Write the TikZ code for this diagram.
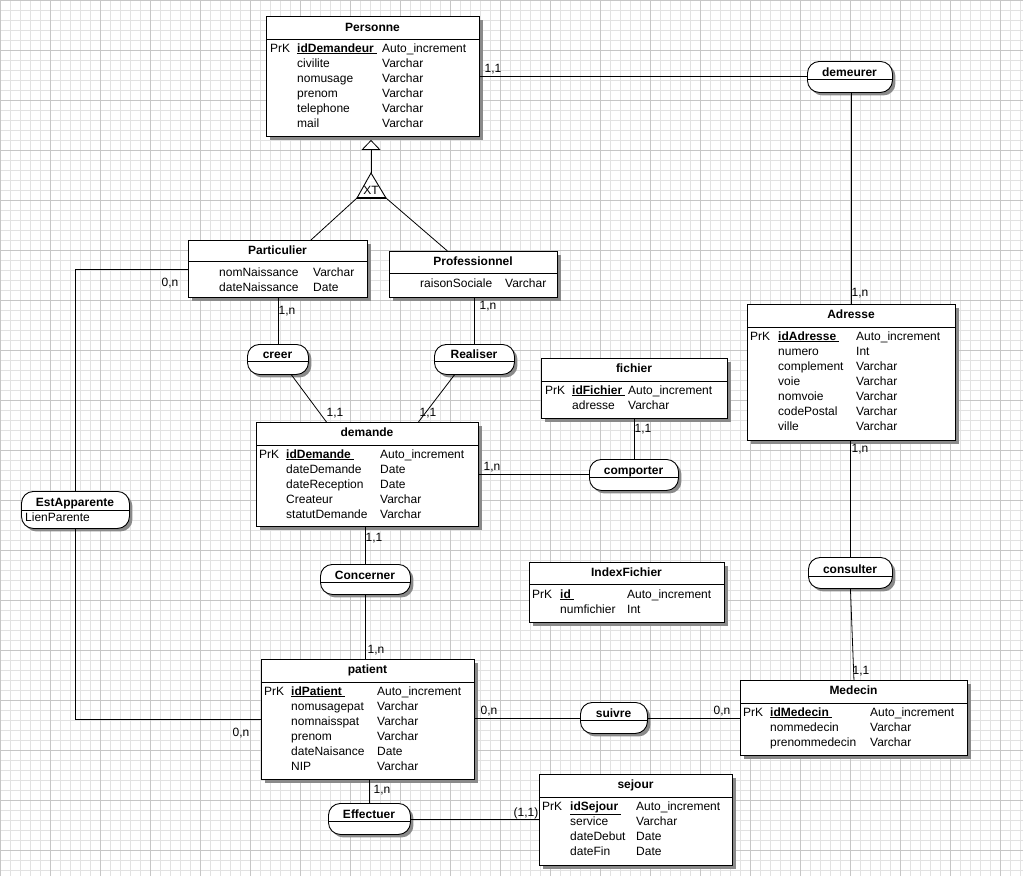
\documentclass[tikz,border=0pt]{standalone}
\usepackage{fontspec}
\setmainfont{Liberation Sans}
\usetikzlibrary{arrows.meta, shadows, calc}
\definecolor{gridMinor}{HTML}{E2E2E2}
\definecolor{gridMajor}{HTML}{C6C6C6}
\definecolor{shadowGray}{HTML}{8A8A8A}

\newcommand{\pkey}[1]{\underline{\textbf{#1}\hspace{3pt}}}

\tikzset{
  entity/.style={draw, fill=white, line width=0.9pt, anchor=north west, inner sep=0pt,
    drop shadow={shadow xshift=4pt, shadow yshift=-4pt, fill=shadowGray, opacity=1}},
  assoc/.style={draw, fill=white, line width=0.9pt, anchor=north west, inner sep=0pt,
    rounded corners=12pt,
    drop shadow={shadow xshift=3pt, shadow yshift=-3pt, fill=shadowGray, opacity=1}},
  txt/.style={anchor=base west, inner sep=0pt, font=\fontsize{12}{14}\selectfont},
  ttl/.style={anchor=base, inner sep=0pt, font=\fontsize{12}{14}\selectfont\bfseries},
  card/.style={inner sep=0pt, font=\fontsize{12}{14}\selectfont},
  link/.style={line width=0.8pt},
}

\begin{document}
\begin{tikzpicture}[x=1pt, y=-1pt]
  \useasboundingbox (0,0) rectangle (1023,876);
  % Background grid (minor every 10, major every 50)
  \draw[gridMinor, line width=0.7pt, step=10pt] (0pt,-876pt) grid (1023pt,0pt);
  \draw[gridMajor, line width=0.7pt, step=50pt] (0pt,-876pt) grid (1023pt,0pt);

  % ---------------- Entities ----------------
  % Personne
  \node[entity, minimum width=213pt, minimum height=120pt] (personne) at (266,16) {};
  \draw ([yshift=-23pt]personne.north west) -- ([yshift=-23pt]personne.north east);
  \node[ttl] (personne-t) at (372.5,31) {Personne};
  \node[txt] (personne-k) at (270,52) {PrK};
  \foreach \a/\t [count=\i from 0] in {\pkey{idDemandeur}/Auto\_increment,
      civilite/Varchar, nomusage/Varchar, prenom/Varchar, telephone/Varchar, mail/Varchar}{
    \node[txt] (personne-a\i) at (297,52+15*\i) {\a};
    \node[txt] (personne-d\i) at (382,52+15*\i) {\t};
  }

  % Particulier
  \node[entity, minimum width=179pt, minimum height=57pt] (particulier) at (188,240) {};
  \draw ([yshift=-21pt]particulier.north west) -- ([yshift=-21pt]particulier.north east);
  \node[ttl] (particulier-t) at (277.5,254) {Particulier};
  \foreach \a/\t [count=\i from 0] in {nomNaissance/Varchar, dateNaissance/Date}{
    \node[txt] (particulier-a\i) at (219,276+15*\i) {\a};
    \node[txt] (particulier-d\i) at (313,276+15*\i) {\t};
  }

  % Professionnel
  \node[entity, minimum width=168pt, minimum height=46pt] (professionnel) at (389,251) {};
  \draw ([yshift=-22pt]professionnel.north west) -- ([yshift=-22pt]professionnel.north east);
  \node[ttl] (professionnel-t) at (473,265) {Professionnel};
  \node[txt] (professionnel-a0) at (420,287) {raisonSociale};
  \node[txt] (professionnel-d0) at (505,287) {Varchar};

  % demande
  \node[entity, minimum width=222pt, minimum height=104pt] (demande) at (256,422) {};
  \draw ([yshift=-23pt]demande.north west) -- ([yshift=-23pt]demande.north east);
  \node[ttl] (demande-t) at (367,436) {demande};
  \node[txt] (demande-k) at (259,458) {PrK};
  \foreach \a/\t [count=\i from 0] in {\pkey{idDemande}/Auto\_increment,
      dateDemande/Date, dateReception/Date, Createur/Varchar, statutDemande/Varchar}{
    \node[txt] (demande-a\i) at (286,458+15*\i) {\a};
    \node[txt] (demande-d\i) at (380,458+15*\i) {\t};
  }

  % fichier
  \node[entity, minimum width=186pt, minimum height=60pt] (fichier) at (541,358) {};
  \draw ([yshift=-23pt]fichier.north west) -- ([yshift=-23pt]fichier.north east);
  \node[ttl] (fichier-t) at (634,372) {fichier};
  \node[txt] (fichier-k) at (545,394) {PrK};
  \foreach \a/\t [count=\i from 0] in {\pkey{idFichier}/Auto\_increment, adresse/Varchar}{
    \node[txt] (fichier-a\i) at (572,394+15*\i) {\a};
    \node[txt] (fichier-d\i) at (628,394+15*\i) {\t};
  }

  % IndexFichier
  \node[entity, minimum width=195pt, minimum height=60pt] (indexfichier) at (529,562) {};
  \draw ([yshift=-22pt]indexfichier.north west) -- ([yshift=-22pt]indexfichier.north east);
  \node[ttl] (indexfichier-t) at (626.5,576) {IndexFichier};
  \node[txt] (indexfichier-k) at (532,598) {PrK};
  \foreach \a/\t [count=\i from 0] in {\pkey{id}/Auto\_increment, numfichier/Int}{
    \node[txt] (indexfichier-a\i) at (560,598+15*\i) {\a};
    \node[txt] (indexfichier-d\i) at (627,598+15*\i) {\t};
  }

  % Adresse
  \node[entity, minimum width=208pt, minimum height=136pt] (adresse) at (747,304) {};
  \draw ([yshift=-23pt]adresse.north west) -- ([yshift=-23pt]adresse.north east);
  \node[ttl] (adresse-t) at (851,318) {Adresse};
  \node[txt] (adresse-k) at (750,340) {PrK};
  \foreach \a/\t [count=\i from 0] in {\pkey{idAdresse}/Auto\_increment,
      numero/Int, complement/Varchar, voie/Varchar, nomvoie/Varchar, codePostal/Varchar, ville/Varchar}{
    \node[txt] (adresse-a\i) at (778,340+15*\i) {\a};
    \node[txt] (adresse-d\i) at (856,340+15*\i) {\t};
  }

  % patient
  \node[entity, minimum width=213pt, minimum height=120pt] (patient) at (261,659) {};
  \draw ([yshift=-23pt]patient.north west) -- ([yshift=-23pt]patient.north east);
  \node[ttl] (patient-t) at (367.5,673) {patient};
  \node[txt] (patient-k) at (264,695) {PrK};
  \foreach \a/\t [count=\i from 0] in {\pkey{idPatient}/Auto\_increment,
      nomusagepat/Varchar, nomnaisspat/Varchar, prenom/Varchar, dateNaisance/Date, NIP/Varchar}{
    \node[txt] (patient-a\i) at (291,695+15*\i) {\a};
    \node[txt] (patient-d\i) at (377,695+15*\i) {\t};
  }

  % Medecin
  \node[entity, minimum width=227pt, minimum height=75pt] (medecin) at (740,680) {};
  \draw ([yshift=-23pt]medecin.north west) -- ([yshift=-23pt]medecin.north east);
  \node[ttl] (medecin-t) at (853.5,694) {Medecin};
  \node[txt] (medecin-k) at (743,716) {PrK};
  \foreach \a/\t [count=\i from 0] in {\pkey{idMedecin}/Auto\_increment,
      nommedecin/Varchar, prenommedecin/Varchar}{
    \node[txt] (medecin-a\i) at (770,716+15*\i) {\a};
    \node[txt] (medecin-d\i) at (870,716+15*\i) {\t};
  }

  % sejour
  \node[entity, minimum width=193pt, minimum height=91pt] (sejour) at (539,774) {};
  \draw ([yshift=-23pt]sejour.north west) -- ([yshift=-23pt]sejour.north east);
  \node[ttl] (sejour-t) at (635.5,788) {sejour};
  \node[txt] (sejour-k) at (542,810) {PrK};
  \foreach \a/\t [count=\i from 0] in {\pkey{idSejour}/Auto\_increment,
      service/Varchar, dateDebut/Date, dateFin/Date}{
    \node[txt] (sejour-a\i) at (570,810+15*\i) {\a};
    \node[txt] (sejour-d\i) at (636,810+15*\i) {\t};
  }

  % ---------------- Associations ----------------
  \node[assoc, minimum width=85pt, minimum height=31pt] (demeurer) at (807,61) {};
  \draw (807,79) -- (892,79);
  \node[ttl] (demeurer-t) at (849.5,76) {demeurer};

  \node[assoc, minimum width=61pt, minimum height=30pt] (creer) at (247,344) {};
  \draw (247,361) -- (308,361);
  \node[ttl] (creer-t) at (277.5,358) {creer};

  \node[assoc, minimum width=80pt, minimum height=30pt] (realiser) at (434,344) {};
  \draw (434,361) -- (514,361);
  \node[ttl] (realiser-t) at (474,358) {Realiser};

  \node[assoc, minimum width=89pt, minimum height=31pt] (comporter) at (589,459) {};
  \draw (589,477) -- (678,477);
  \node[ttl] (comporter-t) at (633.5,474) {comporter};

  \node[assoc, minimum width=108pt, minimum height=37pt] (estapparente) at (21,491) {};
  \draw (21,510) -- (129,510);
  \node[ttl] (estapparente-t) at (75,506) {EstApparente};
  \node[txt] (estapparente-a0) at (25,521) {LienParente};

  \node[assoc, minimum width=90pt, minimum height=30pt] (concerner) at (320,564) {};
  \draw (320,582) -- (410,582);
  \node[ttl] (concerner-t) at (365,579) {Concerner};

  \node[assoc, minimum width=84pt, minimum height=31pt] (consulter) at (808,557) {};
  \draw (808,576) -- (892,576);
  \node[ttl] (consulter-t) at (850,573) {consulter};

  \node[assoc, minimum width=67pt, minimum height=31pt] (suivre) at (580,702) {};
  \draw (580,720) -- (647,720);
  \node[ttl] (suivre-t) at (613.5,717) {suivre};

  \node[assoc, minimum width=82pt, minimum height=31pt] (effectuer) at (328,803) {};
  \draw (328,821) -- (410,821);
  \node[ttl] (effectuer-t) at (369,818) {Effectuer};

  % ---------------- Inheritance ----------------
  \coordinate (xttop) at (371,173);
  \coordinate (xtleft) at (357,198);
  \coordinate (xtright) at (386,198);
  \draw[link, -{Triangle[open, fill=white, length=10pt, width=19pt]}, shorten >=3pt]
    (xttop) -- (xttop |- personne.south);
  \draw[link] (xtleft) -- ([xshift=33pt]particulier.north);
  \draw[link] (xtright) -- ([xshift=-26pt]professionnel.north);
  \draw[line width=0.9pt, fill=white] (xttop) -- (xtright) -- (xtleft) -- cycle;
  \draw[line width=2.4pt] (xtleft) -- (xtright);
  \node[card] (xt) at (371,190) {XT};

  % ---------------- Links ----------------
  \draw[link] (personne.east) -- (personne.east -| demeurer.west);
  \draw[link] (adresse.north) -- (adresse.north |- demeurer.south);
  \draw[link] (consulter.north) -- (consulter.north |- adresse.south);
  \draw[link] (consulter.south) -- (medecin.north);
  \draw[link] (suivre.east) -- (suivre.east -| medecin.west);
  \draw[link] (suivre.west) -- (suivre.west -| patient.east);
  \draw[link] (effectuer.north) -- (effectuer.north |- patient.south);
  \draw[link] (effectuer.east) -- (effectuer.east -| sejour.west);
  \draw[link] (concerner.south) -- (concerner.south |- patient.north);
  \draw[link] (concerner.north) -- (concerner.north |- demande.south);
  \draw[link] (demande.east) -- (demande.east -| comporter.west);
  \draw[link] (comporter.north) -- (comporter.north |- fichier.south);
  \draw[link] (creer.north) -- (creer.north |- particulier.south);
  \draw[link] ([xshift=13.5pt]creer.south) -- ([xshift=-41pt]demande.north);
  \draw[link] (realiser.north) -- (realiser.north |- professionnel.south);
  \draw[link] ([xshift=-20pt]realiser.south) -- ([xshift=51pt]demande.north);
  \draw[link] (particulier.west) -| (estapparente.north);
  \draw[link] (estapparente.south) |- (patient.west);

  % Cardinalities
  \node[card] (c-pers) at (493,69) {1,1};
  \node[card] (c-adr1) at (860,293) {1,n};
  \node[card] (c-adr2) at (860,449) {1,n};
  \node[card] (c-med1) at (861,671) {1,1};
  \node[card] (c-med2) at (722,711) {0,n};
  \node[card] (c-pat1) at (489,711) {0,n};
  \node[card] (c-pat2) at (382,790) {1,n};
  \node[card] (c-sej) at (526,813) {(1,1)};
  \node[card] (c-pat3) at (376,650) {1,n};
  \node[card] (c-dem1) at (374,538) {1,1};
  \node[card] (c-dem2) at (492,467) {1,n};
  \node[card] (c-fic) at (643,429) {1,1};
  \node[card] (c-par1) at (287,311) {1,n};
  \node[card] (c-dem3) at (335,413) {1,1};
  \node[card] (c-pro) at (488,306) {1,n};
  \node[card] (c-dem4) at (428,413) {1,1};
  \node[card] (c-par2) at (170,283) {0,n};
  \node[card] (c-pat4) at (241,733) {0,n};
\end{tikzpicture}
\end{document}
